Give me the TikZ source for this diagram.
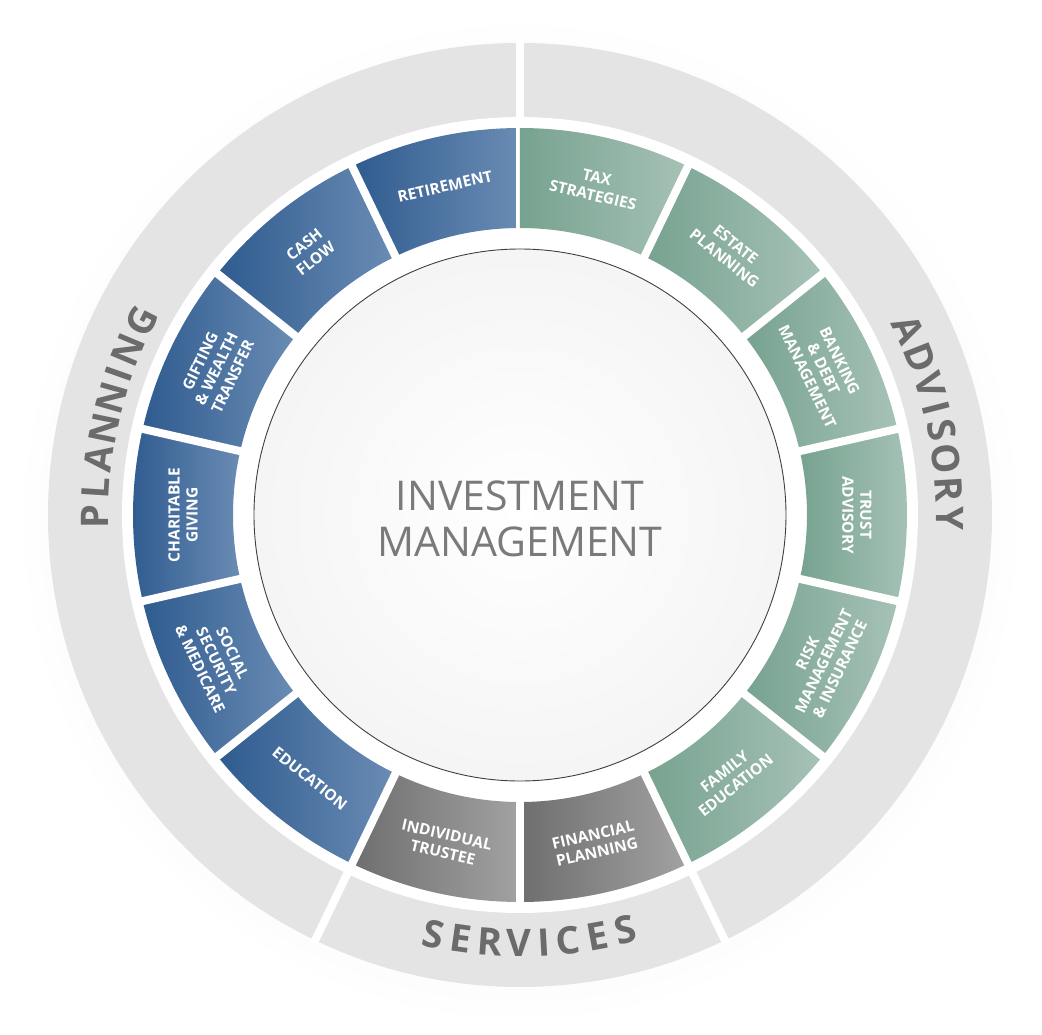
\documentclass[tikz,border=0pt]{standalone}
\usepackage{fontspec}
\setmainfont{Open Sans}
\definecolor{bluedk}{HTML}{2F5B8F}
\definecolor{bluelt}{HTML}{6A8CB4}
\definecolor{grndk}{HTML}{77A290}
\definecolor{grnlt}{HTML}{A6C2B6}
\definecolor{grydk}{HTML}{6E6E6E}
\definecolor{grylt}{HTML}{A2A2A2}
\definecolor{ringgray}{HTML}{E4E4E4}
\definecolor{ringtext}{HTML}{6B6B6B}
\definecolor{centertext}{HTML}{7A7A7A}
\tikzset{
  seglabel/.style={text=white,font=\bfseries\fontsize{15.5}{18}\selectfont,align=center,inner sep=0pt},
  ringletter/.style={text=ringtext,font=\bfseries\fontsize{38}{40}\selectfont,inner sep=0pt},
  sep/.style={white,line width=8pt},
}
\begin{document}
\begin{tikzpicture}[x=1pt,y=1pt]
\useasboundingbox (-520,-519) rectangle (522,515);
% soft shadow
\shade[inner color=black!25,outer color=white,fill opacity=0.6] (0,-6) circle (500);
\fill[white] (0,-3) circle (470);
% outer ring
\fill[ringgray] (0,0) circle (472);
\fill[white] (0,0) circle (398);
% ring separators
\foreach \a in {90,244.286,295.714}{\draw[sep] (\a:390) -- (\a:476);}
% segments
\foreach \c/\colA/\colB/\rot/\t [count=\i] in {
 102.857/bluedk/bluelt/12.857/RETIREMENT,
 128.571/bluedk/bluelt/38.571/{CASH\\FLOW},
 154.286/bluedk/bluelt/64.286/{GIFTING\\\& WEALTH\\TRANSFER},
 180/bluedk/bluelt/90/{CHARITABLE\\GIVING},
 205.714/bluedk/bluelt/-64.286/{SOCIAL\\SECURITY\\\& MEDICARE},
 231.429/bluedk/bluelt/-38.571/EDUCATION,
 257.143/grydk/grylt/-12.857/{INDIVIDUAL\\TRUSTEE},
 282.857/grydk/grylt/12.857/{FINANCIAL\\PLANNING},
 308.571/grndk/grnlt/38.571/{FAMILY\\EDUCATION},
 334.286/grndk/grnlt/64.286/{RISK\\MANAGEMENT\\\& INSURANCE},
 360/grndk/grnlt/-90/{TRUST\\ADVISORY},
 25.714/grndk/grnlt/-64.286/{BANKING\\\& DEBT\\MANAGEMENT},
 51.429/grndk/grnlt/-38.571/{ESTATE\\PLANNING},
 77.143/grndk/grnlt/-12.857/{TAX\\STRATEGIES}}{
  \pgfmathsetmacro\aa{\c-12.857}
  \pgfmathsetmacro\ab{\c+12.857}
  \shade[left color=\colA,right color=\colB]
    (\aa:287) arc[start angle=\aa,end angle=\ab,radius=287]
    -- (\ab:387) arc[start angle=\ab,end angle=\aa,radius=387] -- cycle;
  \draw[sep] (\aa:280) -- (\aa:392);
  \node[seglabel,rotate=\rot] (seg\i) at (\c:337) {\t};
}
% center circle
\shade[inner color=white,outer color=black!4] (0,0) circle (266);
\draw[black!75,line width=0.9pt] (0,0) circle (266);
\node[text=centertext,font=\fontsize{41}{46}\selectfont,align=center] (center) at (0,-4) {INVESTMENT\\MANAGEMENT};
% ring words
\foreach \l/\d [count=\i] in {P/0,L/3.86,A/7.79,N/11.97,N/16.2,I/19.63,N/23.06,G/27.3}{
  \pgfmathsetmacro\a{180.2-\d}
  \node[ringletter,rotate=\a-90] (pl\i) at (\a:425) {\l};}
\foreach \l/\d [count=\i] in {A/0,D/3.99,V/7.92,I/11.08,S/14.11,O/18.04,R/22.09,Y/25.9}{
  \pgfmathsetmacro\a{25.5-\d}
  \node[ringletter,rotate=\a-90] (ad\i) at (\a:430) {\l};}
\foreach \l/\d [count=\i] in {S/0,E/3.76,R/7.65,V/11.6,I/14.86,C/18.19,E/22.14,S/25.9}{
  \pgfmathsetmacro\a{258.3+\d}
  \node[ringletter,rotate=\a-270] (sv\i) at (\a:428) {\l};}
\end{tikzpicture}
\end{document}
